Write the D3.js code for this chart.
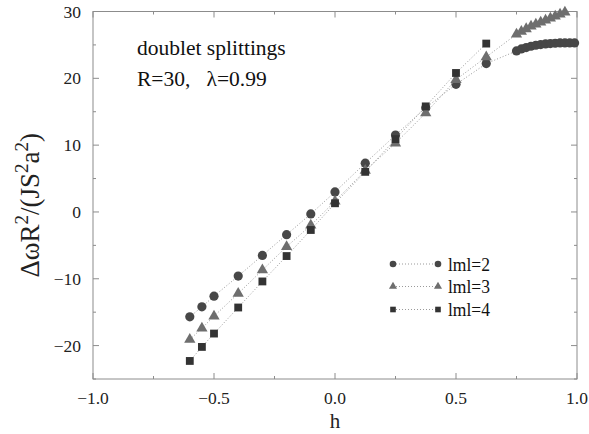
<!DOCTYPE html>
<html>
<head>
<meta charset="utf-8">
<script src="https://cdn.jsdelivr.net/npm/d3@7"></script>
<style>
body{margin:0;background:#fff;}
text{font-family:"Liberation Serif","Times New Roman",serif;}
</style>
</head>
<body>
<div id="chart"></div>
<script>
// h values and splittings
var hMain = [-0.6, -0.55, -0.5, -0.4, -0.3, -0.2, -0.1, 0.0, 0.125, 0.25, 0.375, 0.5, 0.625];
var hTail2 = [0.75, 0.77, 0.79, 0.81, 0.83, 0.85, 0.87, 0.89, 0.91, 0.93, 0.95, 0.97, 0.99];
var hTail3 = [0.75, 0.77, 0.79, 0.81, 0.83, 0.85, 0.87, 0.89, 0.91, 0.93, 0.95];

var m2 = [-15.7, -14.2, -12.6, -9.6, -6.5, -3.4, -0.3, 3.0, 7.3, 11.5, 15.6, 19.1, 22.2,
          24.1, 24.4, 24.6, 24.8, 24.95, 25.05, 25.15, 25.2, 25.25, 25.3, 25.3, 25.3, 25.3];
var m3 = [-19.1, -17.4, -15.6, -12.2, -8.7, -5.2, -2.0, 1.6, 6.2, 10.3, 14.8, 19.8, 23.2,
          26.6, 27.0, 27.4, 27.8, 28.1, 28.4, 28.7, 29.0, 29.3, 29.6, 29.9];
var m4 = [-22.3, -20.2, -18.2, -14.3, -10.4, -6.6, -2.7, 1.3, 6.0, 10.9, 15.8, 20.8, 25.2];

var xTicks = [-1.0, -0.5, 0.0, 0.5, 1.0];
var yTicks = [-20, -10, 0, 10, 20, 30];

var series = [
	{name:"lml=2", h:hMain.concat(hTail2), v:m2, shape:"circle", col:"#474747"},
	{name:"lml=3", h:hMain.concat(hTail3), v:m3, shape:"triangle", col:"#6e6e6e"},
	{name:"lml=4", h:hMain, v:m4, shape:"square", col:"#333333"}
];

var W = 589, H = 434;
var svg = d3.select("#chart").append("svg").attr("width", W).attr("height", H);

var x = d3.scaleLinear().domain([-1, 1]).range([93, 577]);
var y = d3.scaleLinear().domain([-25, 30]).range([379, 11.5]);

var axcol = "#8c8c8c";

//frame
svg.append("rect").attr("x", x(-1)).attr("y", y(30))
	.attr("width", x(1) - x(-1)).attr("height", y(-25) - y(30))
	.attr("fill", "none").attr("stroke", axcol).attr("stroke-width", 1);

//inward ticks on all four sides, major + minor
var g = svg.append("g").attr("stroke", axcol).attr("stroke-width", 1);
d3.range(-1, 1.001, 0.25).forEach(function(t){
	var len = (Math.abs(t*2 - Math.round(t*2)) < 1e-6) ? 6 : 3;
	g.append("line").attr("x1", x(t)).attr("x2", x(t)).attr("y1", y(-25)).attr("y2", y(-25) - len);
	g.append("line").attr("x1", x(t)).attr("x2", x(t)).attr("y1", y(30)).attr("y2", y(30) + len);
});
d3.range(-25, 30.001, 5).forEach(function(t){
	var len = (t % 10 == 0) ? 6 : 3;
	g.append("line").attr("y1", y(t)).attr("y2", y(t)).attr("x1", x(-1)).attr("x2", x(-1) + len);
	g.append("line").attr("y1", y(t)).attr("y2", y(t)).attr("x1", x(1)).attr("x2", x(1) - len);
});

var fx = d3.format(".1f"), fy = d3.format("d");
svg.append("g").selectAll("text").data(xTicks).enter().append("text")
	.attr("x", function(d){return x(d)}).attr("y", 404)
	.attr("text-anchor", "middle").attr("font-size", 17.5).attr("fill", "#222")
	.text(function(d){return fx(d)});
svg.append("g").selectAll("text").data(yTicks).enter().append("text")
	.attr("x", 81).attr("y", function(d){return y(d) + 6})
	.attr("text-anchor", "end").attr("font-size", 17.5).attr("fill", "#222")
	.text(function(d){return fy(d)});

svg.append("text").attr("x", x(0)).attr("y", 428).attr("text-anchor", "middle")
	.attr("font-size", 21).attr("fill", "#222").text("h");

var yl = svg.append("text").attr("transform", "translate(39," + y(1) + ") rotate(-90)")
	.attr("text-anchor", "middle").attr("font-size", 27).attr("fill", "#222");
yl.append("tspan").text("ΔωR");
yl.append("tspan").attr("font-size", 19).attr("dy", -11).text("2");
yl.append("tspan").attr("dy", 11).text("/(JS");
yl.append("tspan").attr("font-size", 19).attr("dy", -11).text("2");
yl.append("tspan").attr("dy", 11).text("a");
yl.append("tspan").attr("font-size", 19).attr("dy", -11).text("2");
yl.append("tspan").attr("dy", 11).text(")");

svg.append("text").attr("x", 137).attr("y", 55).attr("font-size", 21.5).attr("fill", "#111").text("doublet splittings");
svg.append("text").attr("x", 137).attr("y", 86).attr("font-size", 21.5).attr("fill", "#111")
	.attr("xml:space", "preserve").text("R=30,   λ=0.99");

function marker(sel, shape, col, s){
	if(shape == "circle"){
		sel.append("circle").attr("r", s).attr("fill", col);
	}else if(shape == "triangle"){
		sel.append("path").attr("d", d3.symbol().type(d3.symbolTriangle).size(s*s*2.6)()).attr("fill", col);
	}else{
		sel.append("rect").attr("x", -s*0.85).attr("y", -s*0.85).attr("width", s*1.7).attr("height", s*1.7).attr("fill", col);
	}
}

var line = d3.line().x(function(d){return x(d[0])}).y(function(d){return y(d[1])});

series.forEach(function(s){
	var pts = s.h.map(function(h, i){return [h, s.v[i]]});
	svg.append("path").datum(pts).attr("d", line).attr("fill", "none")
		.attr("stroke", "#9a9a9a").attr("stroke-width", 1).attr("stroke-dasharray", "1,2");
	svg.append("g").selectAll("g").data(pts).enter().append("g")
		.attr("transform", function(d){return "translate(" + x(d[0]) + "," + y(d[1]) + ")"})
		.each(function(){marker(d3.select(this), s.shape, s.col, 4.6)});
});

//legend
var legY = [264, 286.5, 309.5];
series.forEach(function(s, i){
	var ly = legY[i];
	svg.append("line").attr("x1", 393).attr("x2", 438).attr("y1", ly).attr("y2", ly)
		.attr("stroke", "#9a9a9a").attr("stroke-width", 1).attr("stroke-dasharray", "1,2");
	[393, 438].forEach(function(lx){
		marker(svg.append("g").attr("transform", "translate(" + lx + "," + ly + ")"), s.shape, s.col, 3.3);
	});
	svg.append("text").attr("x", 448).attr("y", ly + 6.5).attr("font-size", 18).attr("fill", "#111")
		.attr("textLength", 42).attr("lengthAdjust", "spacingAndGlyphs").text(s.name);
});
</script>
</body>
</html>
